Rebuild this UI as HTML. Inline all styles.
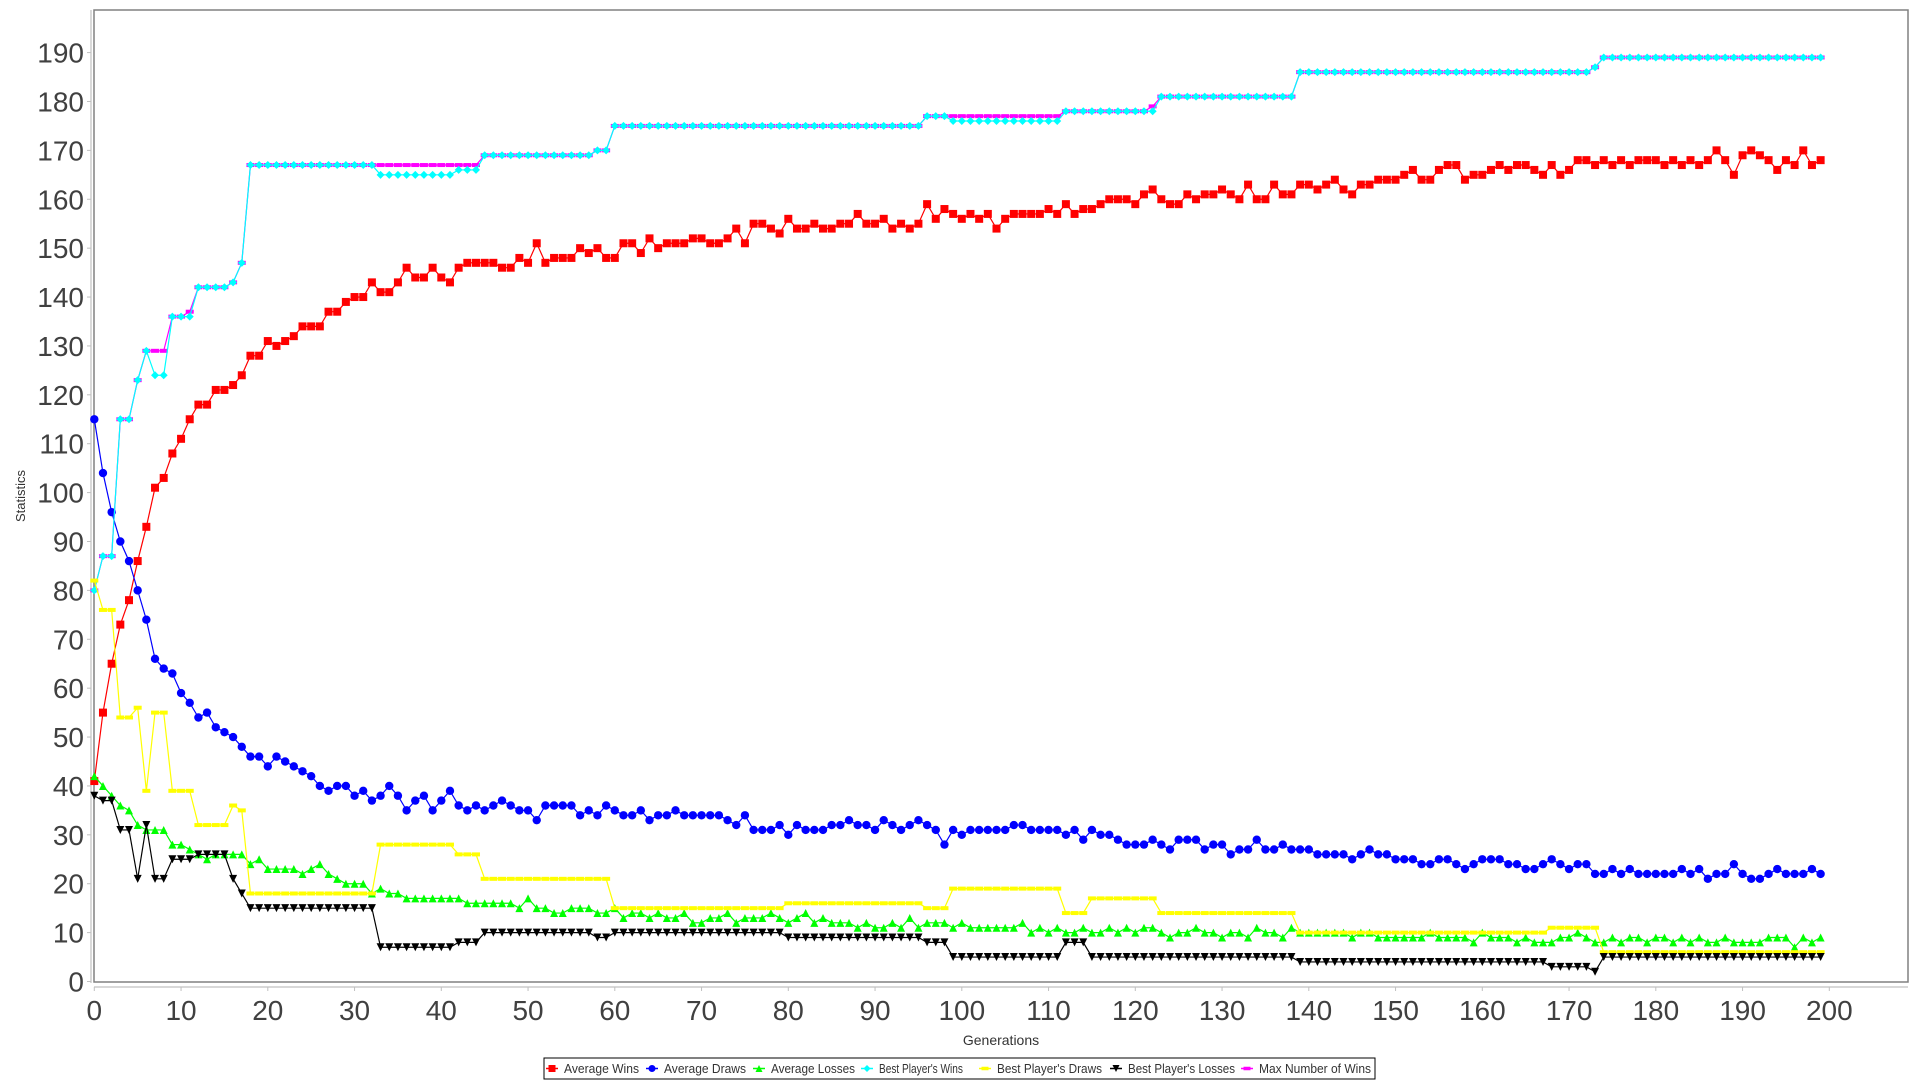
<!DOCTYPE html>
<html><head><meta charset="utf-8"><style>
html,body{margin:0;padding:0;background:#fff;}
svg{display:block;font-family:"Liberation Sans",sans-serif;}
</style></head><body>
<svg id="chart" width="1920" height="1080" xmlns="http://www.w3.org/2000/svg">
<rect x="0" y="0" width="1920" height="1080" fill="#fff"/>
<g id="axes"></g>
<g id="series"></g>
<text x="1001" y="1045" font-size="14" fill="#333" text-anchor="middle">Generations</text>
<text x="0" y="0" font-size="13" fill="#333" text-anchor="middle" transform="translate(25,496) rotate(-90)">Statistics</text>
<g id="legend"></g>
</svg>
<script>
const avgWins=[41,55,65,73,78,86,93,101,103,108,111,115,118,118,121,121,122,124,128,128,131,130,131,132,134,134,134,137,137,139,140,140,143,141,141,143,146,144,144,146,144,143,146,147,147,147,147,146,146,148,147,151,147,148,148,148,150,149,150,148,148,151,151,149,152,150,151,151,151,152,152,151,151,152,154,151,155,155,154,153,156,154,154,155,154,154,155,155,157,155,155,156,154,155,154,155,159,156,158,157,156,157,156,157,154,156,157,157,157,157,158,157,159,157,158,158,159,160,160,160,159,161,162,160,159,159,161,160,161,161,162,161,160,163,160,160,163,161,161,163,163,162,163,164,162,161,163,163,164,164,164,165,166,164,164,166,167,167,164,165,165,166,167,166,167,167,166,165,167,165,166,168,168,167,168,167,168,167,168,168,168,167,168,167,168,167,168,170,168,165,169,170,169,168,166,168,167,170,167,168];
const avgDraws=[115,104,96,90,86,80,74,66,64,63,59,57,54,55,52,51,50,48,46,46,44,46,45,44,43,42,40,39,40,40,38,39,37,38,40,38,35,37,38,35,37,39,36,35,36,35,36,37,36,35,35,33,36,36,36,36,34,35,34,36,35,34,34,35,33,34,34,35,34,34,34,34,34,33,32,34,31,31,31,32,30,32,31,31,31,32,32,33,32,32,31,33,32,31,32,33,32,31,28,31,30,31,31,31,31,31,32,32,31,31,31,31,30,31,29,31,30,30,29,28,28,28,29,28,27,29,29,29,27,28,28,26,27,27,29,27,27,28,27,27,27,26,26,26,26,25,26,27,26,26,25,25,25,24,24,25,25,24,23,24,25,25,25,24,24,23,23,24,25,24,23,24,24,22,22,23,22,23,22,22,22,22,22,23,22,23,21,22,22,24,22,21,21,22,23,22,22,22,23,22];
const avgLosses=[42,40,38,36,35,32,31,31,31,28,28,27,26,25,26,26,26,26,24,25,23,23,23,23,22,23,24,22,21,20,20,20,18,19,18,18,17,17,17,17,17,17,17,16,16,16,16,16,16,15,17,15,15,14,14,15,15,15,14,14,15,13,14,14,13,14,13,13,14,12,12,13,13,14,12,13,13,13,14,13,12,13,14,12,13,12,12,12,11,12,11,11,12,11,13,11,12,12,12,11,12,11,11,11,11,11,11,12,10,11,10,11,10,10,11,10,10,11,10,11,10,11,11,10,9,10,10,11,10,10,9,10,10,9,11,10,10,9,11,10,10,10,10,10,10,9,10,10,9,9,9,9,9,9,10,9,9,9,9,8,10,9,9,9,8,9,8,8,8,9,9,10,9,8,8,9,8,9,9,8,9,9,8,9,8,9,8,8,9,8,8,8,8,9,9,9,7,9,8,9];
const bestWins=[80,87,87,115,115,123,129,124,124,136,136,136,142,142,142,142,143,147,167,167,167,167,167,167,167,167,167,167,167,167,167,167,167,165,165,165,165,165,165,165,165,165,166,166,166,169,169,169,169,169,169,169,169,169,169,169,169,169,170,170,175,175,175,175,175,175,175,175,175,175,175,175,175,175,175,175,175,175,175,175,175,175,175,175,175,175,175,175,175,175,175,175,175,175,175,175,177,177,177,176,176,176,176,176,176,176,176,176,176,176,176,176,178,178,178,178,178,178,178,178,178,178,178,181,181,181,181,181,181,181,181,181,181,181,181,181,181,181,181,186,186,186,186,186,186,186,186,186,186,186,186,186,186,186,186,186,186,186,186,186,186,186,186,186,186,186,186,186,186,186,186,186,186,187,189,189,189,189,189,189,189,189,189,189,189,189,189,189,189,189,189,189,189,189,189,189,189,189,189,189];
const bestDraws=[82,76,76,54,54,56,39,55,55,39,39,39,32,32,32,32,36,35,18,18,18,18,18,18,18,18,18,18,18,18,18,18,18,28,28,28,28,28,28,28,28,28,26,26,26,21,21,21,21,21,21,21,21,21,21,21,21,21,21,21,15,15,15,15,15,15,15,15,15,15,15,15,15,15,15,15,15,15,15,15,16,16,16,16,16,16,16,16,16,16,16,16,16,16,16,16,15,15,15,19,19,19,19,19,19,19,19,19,19,19,19,19,14,14,14,17,17,17,17,17,17,17,17,14,14,14,14,14,14,14,14,14,14,14,14,14,14,14,14,10,10,10,10,10,10,10,10,10,10,10,10,10,10,10,10,10,10,10,10,10,10,10,10,10,10,10,10,10,11,11,11,11,11,11,6,6,6,6,6,6,6,6,6,6,6,6,6,6,6,6,6,6,6,6,6,6,6,6,6,6];
const bestLosses=[38,37,37,31,31,21,32,21,21,25,25,25,26,26,26,26,21,18,15,15,15,15,15,15,15,15,15,15,15,15,15,15,15,7,7,7,7,7,7,7,7,7,8,8,8,10,10,10,10,10,10,10,10,10,10,10,10,10,9,9,10,10,10,10,10,10,10,10,10,10,10,10,10,10,10,10,10,10,10,10,9,9,9,9,9,9,9,9,9,9,9,9,9,9,9,9,8,8,8,5,5,5,5,5,5,5,5,5,5,5,5,5,8,8,8,5,5,5,5,5,5,5,5,5,5,5,5,5,5,5,5,5,5,5,5,5,5,5,5,4,4,4,4,4,4,4,4,4,4,4,4,4,4,4,4,4,4,4,4,4,4,4,4,4,4,4,4,4,3,3,3,3,3,2,5,5,5,5,5,5,5,5,5,5,5,5,5,5,5,5,5,5,5,5,5,5,5,5,5,5];
const maxWins=[80,87,87,115,115,123,129,129,129,136,136,137,142,142,142,142,143,147,167,167,167,167,167,167,167,167,167,167,167,167,167,167,167,167,167,167,167,167,167,167,167,167,167,167,167,169,169,169,169,169,169,169,169,169,169,169,169,169,170,170,175,175,175,175,175,175,175,175,175,175,175,175,175,175,175,175,175,175,175,175,175,175,175,175,175,175,175,175,175,175,175,175,175,175,175,175,177,177,177,177,177,177,177,177,177,177,177,177,177,177,177,177,178,178,178,178,178,178,178,178,178,178,179,181,181,181,181,181,181,181,181,181,181,181,181,181,181,181,181,186,186,186,186,186,186,186,186,186,186,186,186,186,186,186,186,186,186,186,186,186,186,186,186,186,186,186,186,186,186,186,186,186,186,187,189,189,189,189,189,189,189,189,189,189,189,189,189,189,189,189,189,189,189,189,189,189,189,189,189,189];
const xTicks=[0,10,20,30,40,50,60,70,80,90,100,110,120,130,140,150,160,170,180,190,200];
const yTicks=[0,10,20,30,40,50,60,70,80,90,100,110,120,130,140,150,160,170,180,190];
const seriesNames=["Average Wins","Average Draws","Average Losses","Best Player's Wins","Best Player's Draws","Best Player's Losses","Max Number of Wins"];

const NS="http://www.w3.org/2000/svg";
function X(v){return 94.3+v*8.675;}
function Y(v){return 981.5-v*4.889;}
function mk(tag,attrs,parent){const e=document.createElementNS(NS,tag);for(const k in attrs)e.setAttribute(k,attrs[k]);parent.appendChild(e);return e;}

const axes=document.getElementById('axes');
const frame=mk('rect',{x:94,y:10,width:1814,height:972,fill:'none',stroke:'#808080','stroke-width':1.5},axes);


mk('line',{x1:91,y1:10,x2:91,y2:983,stroke:'#c0c0c0','stroke-width':1.2},axes);
mk('line',{x1:94,y1:987,x2:1908,y2:987,stroke:'#c0c0c0','stroke-width':1.2},axes);
yTicks.forEach(v=>{
  mk('line',{x1:87,y1:Y(v),x2:91,y2:Y(v),stroke:'#c0c0c0'},axes);
  const t=mk('text',{x:84,y:Y(v)+10,'font-size':28,fill:'#404040','text-anchor':'end'},axes);
  t.textContent=v;
  
  
});
xTicks.forEach(v=>{
  mk('line',{x1:X(v),y1:987,x2:X(v),y2:991,stroke:'#c0c0c0'},axes);
  const t=mk('text',{x:X(v),y:1020,'font-size':28,fill:'#404040','text-anchor':'middle'},axes);
  t.textContent=v;
  
  
});

function marker(shape,x,y,color,g,s){
  s=s||4;
  if(shape==='square')return mk('rect',{x:x-s,y:y-s,width:2*s,height:2*s,fill:color},g);
  if(shape==='circle')return mk('circle',{cx:x,cy:y,r:s,fill:color},g);
  if(shape==='up')return mk('polygon',{points:`${x},${y-s} ${x+s},${y+s} ${x-s},${y+s}`,fill:color},g);
  if(shape==='down')return mk('polygon',{points:`${x-s},${y-s} ${x+s},${y-s} ${x},${y+s}`,fill:color},g);
  if(shape==='diamond')return mk('polygon',{points:`${x},${y-s} ${x+s},${y} ${x},${y+s} ${x-s},${y}`,fill:color},g);
  if(shape==='hrect')return mk('rect',{x:x-s,y:y-s/2,width:2*s,height:s,fill:color},g);
}
const specs=[
  {d:avgWins,c:'#ff0000',m:'square',n:'average-wins-series'},
  {d:avgDraws,c:'#0000ff',m:'circle',n:'average-draws-series'},
  {d:avgLosses,c:'#00ff00',m:'up',n:'average-losses-series'},
  {d:maxWins,c:'#ff00ff',m:'hrect',n:'max-wins-series'},
  {d:bestWins,c:'#00ffff',m:'diamond',n:'best-wins-series'},
  {d:bestDraws,c:'#ffff00',m:'hrect',n:'best-draws-series'},
  {d:bestLosses,c:'#000000',m:'down',n:'best-losses-series'}
];
const sl=document.getElementById('series');
specs.forEach(s=>{
  const g=mk('g',{},sl);
  
  
  const pts=s.d.map((v,i)=>X(i)+','+Y(v)).join(' ');
  mk('polyline',{points:pts,fill:'none',stroke:s.c,'stroke-width':1.2},g);
  s.d.forEach((v,i)=>{
    const p=marker(s.m,X(i),Y(v),s.c,g,s.m==='circle'?4.2:4);
    
    
  });
});

const lg=document.getElementById('legend');
mk('rect',{x:544,y:1058,width:831,height:21,fill:'#fff',stroke:'#000','stroke-width':1},lg);
const lcol=['#ff0000','#0000ff','#00ff00','#00ffff','#ffff00','#000000','#ff00ff'];
const lmk=['square','circle','up','diamond','hrect','down','hrect'];
const lx=[552,652,759,867,985,1116,1247];
const lw=[75,82,84,84,105,107,112];
seriesNames.forEach((nm,i)=>{
  const g=mk('g',{},lg);
  
  
  mk('line',{x1:lx[i]-6,y1:1068.5,x2:lx[i]+6,y2:1068.5,stroke:lcol[i],'stroke-width':1.5},g);
  marker(lmk[i],lx[i],1068.5,lcol[i],g,3.5);
  const t=mk('text',{x:lx[i]+12,y:1073,'font-size':13,fill:'#333',textLength:lw[i],lengthAdjust:'spacingAndGlyphs'},g);
  t.textContent=nm;
});
</script>
</body></html>
